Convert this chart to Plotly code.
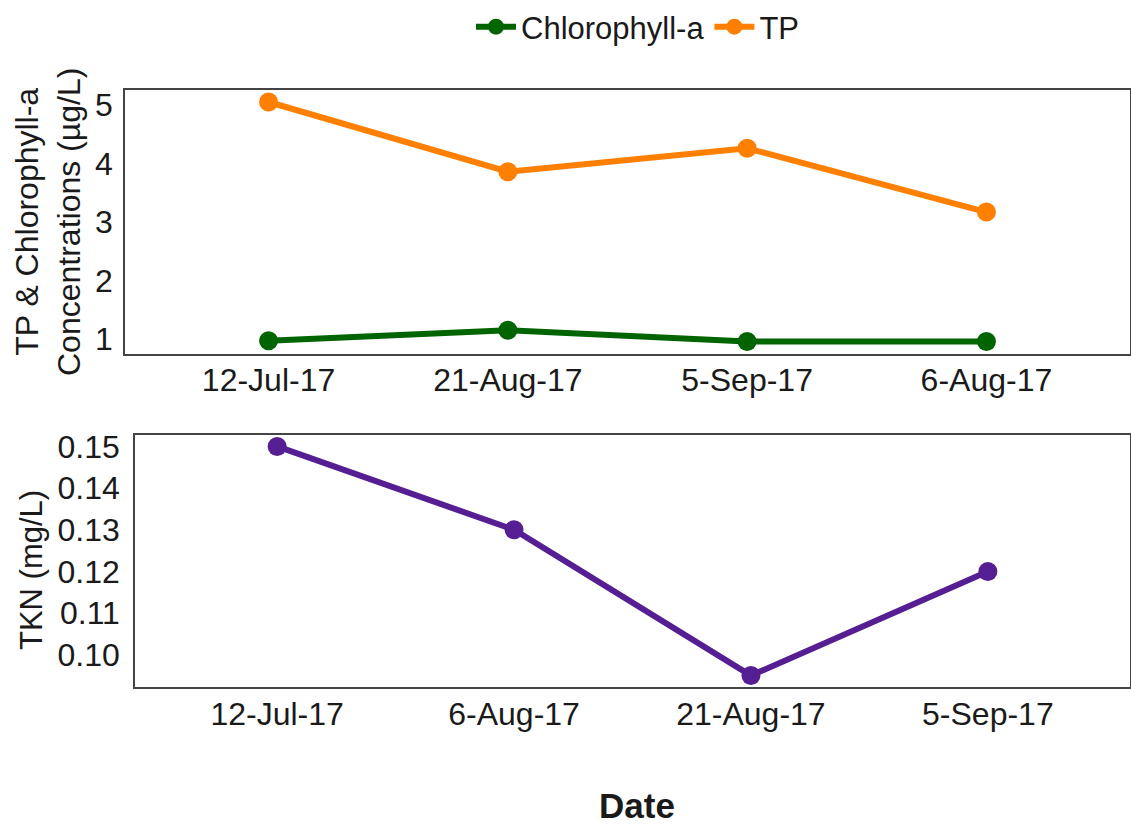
import plotly.graph_objects as go

# Top panel data
top_dates = ["12-Jul-17", "21-Aug-17", "5-Sep-17", "6-Aug-17"]
chla_vals = [0.97, 1.15, 0.96, 0.96]
tp_vals = [5.05, 3.86, 4.26, 3.17]
top_yticks = [1, 2, 3, 4, 5]

# Bottom panel data
bot_dates = ["12-Jul-17", "6-Aug-17", "21-Aug-17", "5-Sep-17"]
tkn_vals = [0.150, 0.130, 0.095, 0.120]
bot_yticks = [0.10, 0.11, 0.12, 0.13, 0.14, 0.15]
bot_ytick_labels = ["0.10", "0.11", "0.12", "0.13", "0.14", "0.15"]

W, H = 1131, 824
FONT = "Liberation Sans, Arial, sans-serif"
TXT = "#1a1a1a"
GREEN = "#006400"
ORANGE = "#FF7F00"
PURPLE = "#561E93"

fig = go.Figure()
fig.add_trace(go.Scatter(x=top_dates, y=chla_vals, name="Chlorophyll-a", mode="lines+markers",
                         line=dict(color=GREEN, width=6), marker=dict(color=GREEN, size=19),
                         xaxis="x", yaxis="y"))
fig.add_trace(go.Scatter(x=top_dates, y=tp_vals, name="TP", mode="lines+markers",
                         line=dict(color=ORANGE, width=6), marker=dict(color=ORANGE, size=19),
                         xaxis="x", yaxis="y"))
fig.add_trace(go.Scatter(x=bot_dates, y=tkn_vals, name="TKN", mode="lines+markers", showlegend=False,
                         line=dict(color=PURPLE, width=6), marker=dict(color=PURPLE, size=19),
                         xaxis="x2", yaxis="y2"))

def px_x(p):
    return p / W

def px_y(p):
    return 1 - p / H

axis_common = dict(showline=True, mirror=True, linecolor="#444444", linewidth=1.5,
                   showgrid=False, zeroline=False, ticks="", automargin=False,
                   tickfont=dict(family=FONT, size=32, color=TXT))

fig.update_layout(
    width=W, height=H,
    margin=dict(l=0, r=0, t=0, b=0),
    paper_bgcolor="white", plot_bgcolor="white",
    font=dict(family=FONT, color=TXT),
    xaxis=dict(domain=[px_x(125), px_x(1130)], anchor="y", type="category",
               categoryorder="array", categoryarray=top_dates, range=[-0.6, 3.6],
               ticklabelstandoff=-3, **axis_common),
    yaxis=dict(domain=[px_y(354), px_y(90)], anchor="x", range=[0.745, 5.255],
               tickvals=top_yticks, ticklabelstandoff=4, **axis_common),
    xaxis2=dict(domain=[px_x(135), px_x(1130)], anchor="y2", type="category",
                categoryorder="array", categoryarray=bot_dates, range=[-0.6, 3.6],
                ticklabelstandoff=-2, **axis_common),
    yaxis2=dict(domain=[px_y(687), px_y(435)], anchor="x2", range=[0.09225, 0.15275],
                tickvals=bot_yticks, ticktext=bot_ytick_labels, ticklabelstandoff=7, **axis_common),
    legend=dict(orientation="h", x=px_x(638), xanchor="center", y=1.0, yanchor="top",
                font=dict(family=FONT, size=31, color=TXT), itemwidth=40,
                bgcolor="rgba(0,0,0,0)"),
    annotations=[
        dict(text="TP & Chlorophyll-a<br>Concentrations (µg/L)", x=px_x(48), y=px_y(222),
             xref="paper", yref="paper", textangle=-90, showarrow=False,
             font=dict(family=FONT, size=32, color=TXT), xanchor="center", yanchor="middle"),
        dict(text="TKN (mg/L)", x=px_x(31), y=px_y(570),
             xref="paper", yref="paper", textangle=-90, showarrow=False,
             font=dict(family=FONT, size=31, color=TXT), xanchor="center", yanchor="middle"),
        dict(text="<b>Date</b>", x=px_x(637), y=px_y(805),
             xref="paper", yref="paper", showarrow=False,
             font=dict(family=FONT, size=35, color=TXT), xanchor="center", yanchor="middle"),
    ],
)

fig.write_html("out.html", config={"displayModeBar": False},
               post_script="document.body.style.margin='0';document.body.style.overflow='hidden';")
